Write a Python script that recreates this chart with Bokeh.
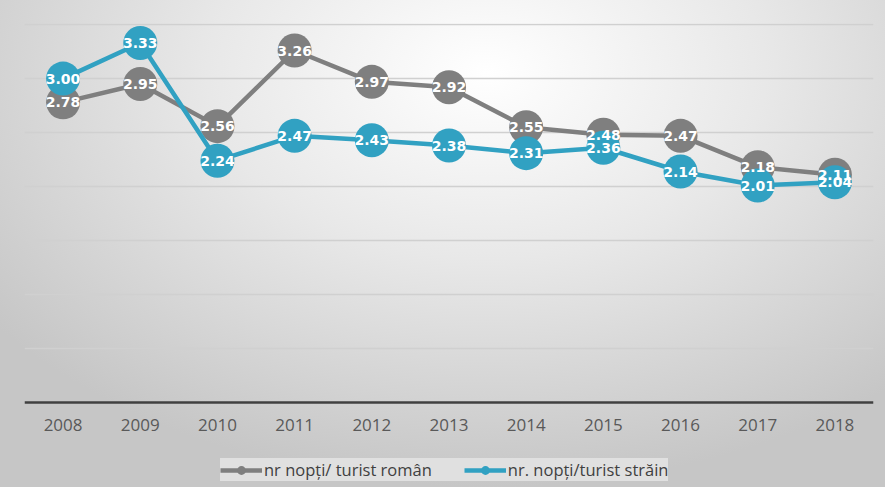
from bokeh.plotting import figure
from bokeh.models import ColumnDataSource, LabelSet, Legend, LegendItem, FixedTicker
from bokeh.core.properties import value
from bokeh.embed import file_html
from bokeh.resources import INLINE

years = [2008, 2009, 2010, 2011, 2012, 2013, 2014, 2015, 2016, 2017, 2018]
romani = [2.78, 2.95, 2.56, 3.26, 2.97, 2.92, 2.55, 2.48, 2.47, 2.18, 2.11]
straini = [3.00, 3.33, 2.24, 2.47, 2.43, 2.38, 2.31, 2.36, 2.14, 2.01, 2.04]
name_ro = "nr nopți/ turist român"
name_st = "nr. nopți/turist străin"

GRAY = "#7f7f7f"
BLUE = "#31a1c2"

# frame spans the full figure height; y=0 sits at the axis line
p = figure(width=885, height=487, x_range=(2007.5, 2018.5), y_range=(-0.785, 3.51),
           output_backend="svg", toolbar_location=None)
p.min_border = 0
p.min_border_left = 24
p.min_border_right = 12
p.min_border_top = 23
p.min_border_bottom = 0
p.outline_line_color = None
p.background_fill_color = None
p.border_fill_color = None
p.styles = {"background": "radial-gradient(ellipse 70% 85% at 55% 15%, #ffffff 0%, #e8e8e8 45%, #c6c6c6 100%)"}

p.yaxis.visible = False
p.ygrid.ticker = FixedTicker(ticks=[0.5, 1.0, 1.5, 2.0, 2.5, 3.0, 3.5])
p.ygrid.grid_line_color = "#d0d0d0"
p.ygrid.grid_line_width = 1.5
p.xgrid.visible = False

p.xaxis.fixed_location = 0
p.xaxis.ticker = FixedTicker(ticks=years)
p.xaxis.axis_line_color = "#404040"
p.xaxis.axis_line_width = 2.5
p.xaxis.major_tick_line_color = None
p.xaxis.minor_tick_line_color = None
p.xaxis.major_label_standoff = 10
p.xaxis.major_label_text_font = "Open Sans"
p.xaxis.major_label_text_font_size = "17px"
p.xaxis.major_label_text_color = "#595959"

src_ro = ColumnDataSource(dict(x=years, y=romani, lbl=["%.2f" % v for v in romani]))
src_st = ColumnDataSource(dict(x=years, y=straini, lbl=["%.2f" % v for v in straini]))

l1 = p.line("x", "y", source=src_ro, line_color=GRAY, line_width=4.5)
s1 = p.scatter("x", "y", source=src_ro, size=34, fill_color=GRAY, line_color=None)
l2 = p.line("x", "y", source=src_st, line_color=BLUE, line_width=4.5)
s2 = p.scatter("x", "y", source=src_st, size=34, fill_color=BLUE, line_color=None)

for src in (src_ro, src_st):
    p.add_layout(LabelSet(x="x", y="y", text="lbl", source=src, text_align="center",
                          text_baseline="middle", text_color="white", text_font_style="bold",
                          text_font=value("DejaVu Sans"), text_font_size="14px"))

legend = Legend(items=[LegendItem(label=name_ro, renderers=[l1, s1]),
                       LegendItem(label=name_st, renderers=[l2, s2])],
                orientation="horizontal", location=(196, 6),
                background_fill_color="#e2e2e2", background_fill_alpha=0.9,
                border_line_color=None, glyph_width=42, glyph_height=22,
                label_standoff=2, spacing=32, padding=5, margin=0,
                label_text_font="Open Sans", label_text_font_size="16.5px",
                label_text_color="#404040")
p.add_layout(legend, "center")

open("out.html", "w").write(file_html(p, INLINE))
